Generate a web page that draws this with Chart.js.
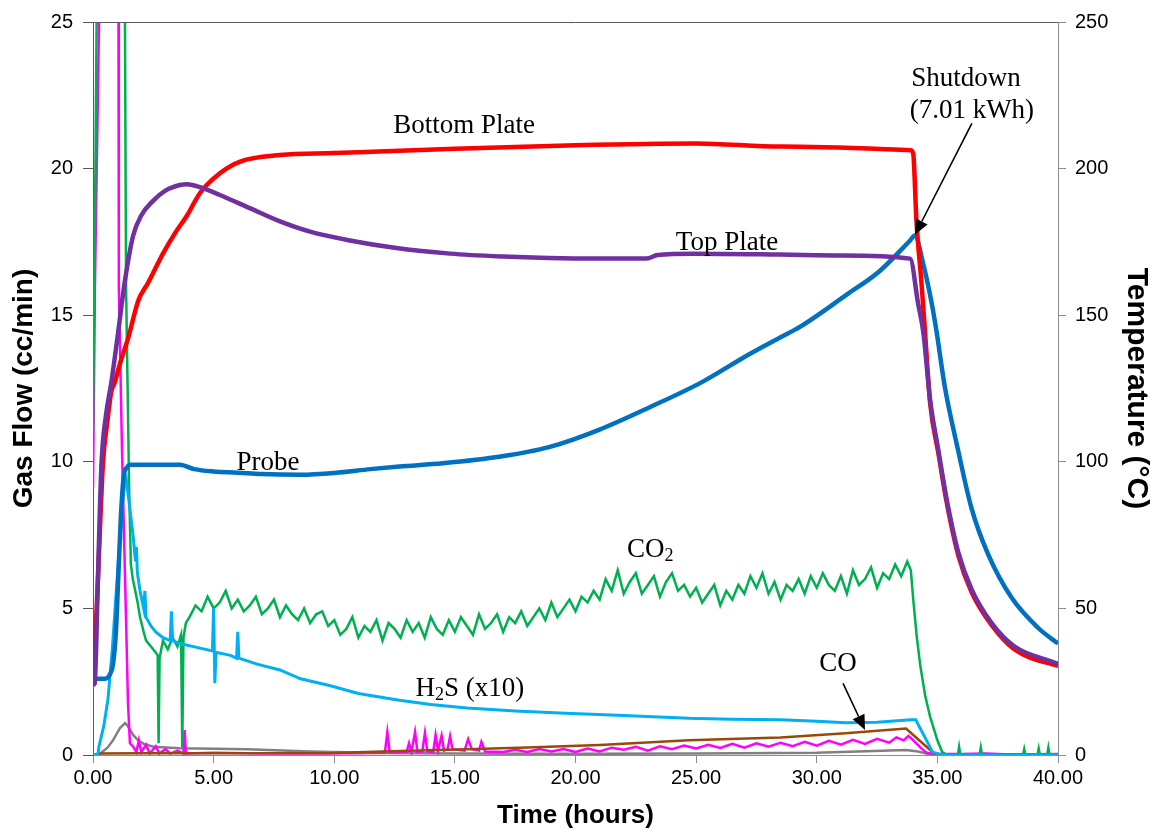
<!DOCTYPE html>
<html>
<head>
<meta charset="utf-8">
<script src="https://cdn.jsdelivr.net/npm/chart.js@4.4.1/dist/chart.umd.min.js"></script>
<style>
  html, body { margin: 0; padding: 0; background: #fff; }
  #wrap { width: 1154px; height: 836px; }
</style>
</head>
<body>
<div id="wrap"><canvas id="gasChart" width="1154" height="836"></canvas></div>
<script>
// axis ticks
const timeTicks = [0, 5, 10, 15, 20, 25, 30, 35, 40];
const gasTicks = [0, 5, 10, 15, 20, 25];
const tempTicks = [0, 50, 100, 150, 200, 250];

// temperatures (right axis, °C)
const bottomT = [0.03, 0.2, 0.41, 0.6, 0.76, 0.9, 1.1, 1.45, 1.88, 2.28, 2.9, 3.4, 3.9, 4.43, 5.26, 6.1, 7.75, 10, 15, 20, 25, 28.5, 33.9, 34.0, 34.13, 34.35, 34.49, 34.7, 35.04, 35.39, 35.87, 36.42, 37.25, 38.2, 39.95, 40];
const bottomV = [28, 59, 99, 114, 124, 127, 133, 142, 155, 161, 171, 178, 184, 191.6, 198.4, 202.4, 204.6, 205.3, 206.8, 208, 208.6, 207.5, 206.3, 205, 182.6, 160, 144, 120, 103, 86, 68, 55.5, 44.3, 36, 30.5, 30.4];

const topT = [0, 0.07, 0.2, 0.35, 0.54, 0.76, 1.04, 1.31, 1.66, 2.0, 2.49, 3.0, 3.6, 3.9, 4.5, 5.26, 6.5, 7.75, 9, 10.65, 12.5, 14.8, 17, 18.9, 21, 22.95, 23.4, 24.9, 28.5, 31, 33.87, 34.2, 34.42, 34.7, 35.04, 35.39, 35.87, 36.42, 37.25, 38.2, 39.95, 40];
const topV = [24, 24.4, 59, 99, 116, 127, 144, 161, 177, 184, 189, 192.5, 194.4, 194.7, 193.5, 191, 186.5, 182, 178.5, 175.5, 173, 171, 170, 169.5, 169.3, 169.3, 170.5, 171, 170.7, 170.4, 169.3, 154, 144, 121, 104, 87, 69, 56.5, 45, 37, 31.2, 31];

const probeT = [0, 0.5, 0.7, 0.83, 0.95, 1.04, 1.16, 1.28, 1.4, 1.52, 2.5, 3.6, 4.2, 5, 6, 7, 8.6, 10, 11.5, 12.7, 14.5, 16.9, 18.9, 21, 23.1, 25.2, 27.2, 28.5, 29.3, 31.24, 32.6, 33.86, 34.07, 34.4, 34.76, 34.97, 35.3, 35.87, 36.42, 37.1, 38.08, 39.17, 40];
const probeV = [26, 26, 27.5, 31, 42, 59, 82, 95.6, 98, 99, 99, 99, 97.5, 96.7, 96.3, 95.8, 95.6, 96.2, 97.5, 98.4, 99.5, 101.8, 105, 111, 118.7, 127, 136.7, 142.5, 146, 157, 165, 175.4, 177.2, 168, 154.3, 144.2, 126, 103.5, 84, 68.5, 53.6, 43.4, 38];

// gas flows (left axis, cc/min)
const co2T = [0, 0.1, 0.2, 1.3, 1.37, 1.5, 1.57, 1.65, 1.75, 1.85, 1.95, 2.1, 2.2, 2.4, 2.6, 2.68, 2.72, 2.76, 2.9, 3.1, 3.3, 3.5, 3.65, 3.7, 3.75, 3.85,
  4.0, 4.25, 4.5, 4.75, 5.0, 5.25, 5.5, 5.75, 6.0, 6.25, 6.5, 6.75, 7.0, 7.25, 7.5, 7.75, 8.0, 8.25, 8.5, 8.75, 9.0, 9.25, 9.5, 9.75,
  10.0, 10.25, 10.5, 10.75, 11.0, 11.25, 11.5, 11.75, 12.0, 12.25, 12.5, 12.75, 13.0, 13.25, 13.5, 13.75, 14.0, 14.25, 14.5, 14.75,
  15.0, 15.25, 15.5, 15.75, 16.0, 16.25, 16.5, 16.75, 17.0, 17.25, 17.5, 17.75, 18.0, 18.25, 18.5, 18.75, 19.0, 19.25, 19.5, 19.75,
  20.0, 20.25, 20.5, 20.75, 21.0, 21.25, 21.5, 21.75, 22.0, 22.25, 22.5, 22.75, 23.0, 23.25, 23.5, 23.75, 24.0, 24.25, 24.5, 24.75,
  25.0, 25.25, 25.5, 25.75, 26.0, 26.25, 26.5, 26.75, 27.0, 27.25, 27.5, 27.75, 28.0, 28.25, 28.5, 28.75, 29.0, 29.25, 29.5, 29.75,
  30.0, 30.25, 30.5, 30.75, 31.0, 31.25, 31.5, 31.75, 32.0, 32.25, 32.5, 32.75, 33.0, 33.25, 33.5, 33.75, 33.9,
  34.0, 34.15, 34.3, 34.5, 34.7, 34.85, 35.0, 35.2, 35.4,
  35.85, 35.9, 35.95, 36.75, 36.8, 36.85, 38.55, 38.6, 38.65, 39.15, 39.2, 39.25, 39.55, 39.6, 39.65, 40];
const co2V = [11, 20, 30, 30, 16, 9, 6.5, 6.0, 5.6, 5.2, 4.7, 4.2, 3.9, 3.7, 3.5, 3.4, 0.4, 3.3, 3.9, 3.6, 4.0, 3.7, 4.1, 0.25, 4.0, 4.5,
  4.7, 5.1, 4.9, 5.4, 5.0, 5.2, 5.6, 5.0, 5.3, 4.9, 5.1, 5.4, 4.8, 5.0, 5.3, 4.7, 5.1, 4.8, 4.6, 5.0, 4.5, 4.8, 4.9, 4.4,
  4.6, 4.1, 4.3, 4.7, 4.0, 4.4, 4.2, 4.6, 3.9, 4.5, 4.3, 4.0, 4.6, 4.2, 4.5, 4.0, 4.7, 4.3, 4.1, 4.6,
  4.2, 4.7, 4.4, 4.1, 4.8, 4.3, 4.5, 4.8, 4.2, 4.7, 4.5, 4.9, 4.4, 4.7, 5.0, 4.6, 5.2, 4.7, 5.0, 5.3,
  4.9, 5.4, 5.2, 5.6, 5.3, 6.0, 5.6, 6.3, 5.5, 5.9, 6.2, 5.5, 5.8, 6.1, 5.4, 5.9, 6.2, 5.6, 5.8, 5.4,
  5.7, 5.2, 5.5, 5.8, 5.1, 5.6, 5.3, 5.8, 5.5, 6.1, 5.7, 6.2, 5.5, 5.9, 5.3, 5.8, 5.6, 6.0, 5.5, 6.1,
  5.7, 6.2, 5.8, 5.6, 6.1, 5.5, 6.3, 5.8, 6.0, 6.4, 5.7, 6.2, 6.0, 6.5, 6.1, 6.6, 6.3,
  5.3, 4.0, 3.0, 2.0, 1.3, 0.9, 0.5, 0.1, 0.0,
  0.0, 0.27, 0.0, 0.0, 0.25, 0.0, 0.0, 0.2, 0.0, 0.0, 0.22, 0.0, 0.0, 0.25, 0.0, 0.02];

const h2sT = [0, 0.2, 0.25, 0.45, 0.62, 0.8, 1.0, 1.15, 1.3, 1.38, 1.5, 1.66, 1.76, 1.8, 1.84, 1.95, 2.1, 2.15, 2.2, 2.4, 2.6, 2.9, 3.2, 3.25, 3.3, 3.6, 4.3, 4.95, 5.0, 5.05, 5.1, 5.7, 5.95, 6.0, 6.05, 6.8, 7.75, 8.6, 9.8, 11, 12.7, 14, 15.5, 17.5, 19.6, 22, 24.7, 26.5, 28.5, 30, 31.2, 32.5, 33.9, 34.1, 34.55, 34.8, 35.2, 40];
const h2sV = [0, 0, 0.3, 1.0, 1.9, 3.6, 6.0, 7.8, 9.2, 9.4, 8.6, 7.5, 6.6, 7.1, 6.2, 5.6, 5.0, 5.6, 4.7, 4.4, 4.2, 4.0, 3.9, 4.9, 3.9, 3.8, 3.67, 3.55, 5.0, 2.45, 3.5, 3.4, 3.3, 4.2, 3.3, 3.1, 2.9, 2.6, 2.37, 2.1, 1.87, 1.72, 1.6, 1.5, 1.42, 1.35, 1.25, 1.22, 1.2, 1.15, 1.1, 1.12, 1.2, 1.2, 0.5, 0.1, 0, 0];

const coT = [0, 0.3, 2, 10, 12, 15.5, 18, 21, 24.7, 28.5, 31.2, 33.7, 34.55, 34.9, 40];
const coV = [0, 0.05, 0.06, 0.07, 0.12, 0.2, 0.26, 0.34, 0.5, 0.6, 0.74, 0.9, 0.28, 0.03, 0.02];

const pinkT = [0, 0.08, 0.25, 0.3, 1.05, 1.07, 1.2, 1.45, 1.53, 1.65, 1.8, 1.9, 2.0, 2.2, 2.35, 2.6, 2.75, 3.0, 3.2, 3.5, 3.75, 3.8, 3.85, 5, 7, 9, 11, 12.1, 12.2, 12.3, 13.0, 13.1, 13.2, 13.35, 13.45, 13.65, 13.76, 13.86, 14.1, 14.2, 14.3, 14.45, 14.55, 14.7, 14.8, 14.9, 15.4, 15.55, 15.7, 16.0, 16.1, 16.25, 17, 17.5, 18, 18.5, 19, 19.5, 20, 20.5, 21, 21.5, 22, 22.5, 23, 23.5, 24, 24.5, 25, 25.5, 26, 26.5, 27, 27.5, 28, 28.5, 29, 29.5, 30, 30.5, 31, 31.5, 32, 32.5, 33, 33.3, 33.6, 33.8, 34.0, 34.3, 34.55, 35, 36, 37, 38, 40];
const pinkV = [9.1, 16, 25, 30, 30, 16, 10.5, 1.8, 0.4, 0.3, 0.1, 0.5, 0.1, 0.35, 0.05, 0.3, 0.05, 0.2, 0.05, 0.15, 0.05, 0.85, 0.05, 0.08, 0.05, 0.05, 0.06, 0.08, 0.78, 0.08, 0.1, 0.4, 0.1, 0.78, 0.1, 0.12, 0.75, 0.12, 0.1, 0.68, 0.15, 0.66, 0.15, 0.2, 0.64, 0.2, 0.15, 0.54, 0.2, 0.15, 0.45, 0.12, 0.1, 0.18, 0.1, 0.2, 0.12, 0.2, 0.1, 0.22, 0.12, 0.25, 0.18, 0.28, 0.15, 0.3, 0.2, 0.32, 0.22, 0.35, 0.24, 0.38, 0.25, 0.4, 0.28, 0.42, 0.3, 0.45, 0.32, 0.48, 0.35, 0.52, 0.38, 0.55, 0.42, 0.6, 0.5, 0.65, 0.5, 0.25, 0.08, 0.03, 0.03, 0.05, 0.02, 0.03];

const greyT = [0, 0.3, 0.6, 0.83, 1.0, 1.12, 1.33, 1.45, 1.53, 1.7, 1.87, 2.1, 2.5, 3.6, 6.4, 9, 11.9, 15, 20, 25, 30, 33.7, 34.2, 34.8, 40];
const greyV = [0, 0.05, 0.25, 0.5, 0.75, 0.92, 1.09, 0.98, 0.85, 0.65, 0.5, 0.38, 0.28, 0.23, 0.2, 0.12, 0.07, 0.05, 0.04, 0.05, 0.08, 0.17, 0.12, 0, 0];

function pts(ts, vs) {
  return ts.map((t, i) => ({ x: t, y: vs[i] }));
}

// text labels placed in data units (x hours, y gas flow)
const labels = [
  { text: 'Bottom Plate', x: 15.38, y: 21.44 },
  { text: 'Top Plate', x: 26.28, y: 17.47 },
  { text: 'Probe', x: 7.25, y: 9.97 },
  { text: 'CO', sub: '2', x: 23.1, y: 7.0 },
  { text: 'H', sub: '2', rest: 'S (x10)', x: 15.62, y: 2.27 },
  { text: 'CO', x: 30.88, y: 3.09 },
  { text: 'Shutdown', x: 36.19, y: 23.07 },
  { text: '(7.01 kWh)', x: 36.43, y: 21.98 }
];
const arrows = [
  { x1: 36.43, y1: 21.54, x2: 34.07, y2: 17.74 },
  { x1: 31.09, y1: 2.44, x2: 32.0, y2: 0.85 }
];

const serif = '"Liberation Serif", "Times New Roman", serif';

const notes = {
  id: 'notes',
  afterDatasetsDraw(chart) {
    const ctx = chart.ctx;
    const xs = chart.scales.x, ys = chart.scales.y;
    const a = chart.chartArea;
    ctx.save();
    // plot border top
    ctx.strokeStyle = '#595959';
    ctx.lineWidth = 1;
    ctx.beginPath();
    ctx.moveTo(a.left, a.top + 0.5);
    ctx.lineTo(a.right, a.top + 0.5);
    ctx.stroke();

    ctx.fillStyle = '#000';
    ctx.textBaseline = 'middle';
    ctx.textAlign = 'left';
    labels.forEach(l => {
      const px = xs.getPixelForValue(l.x), py = ys.getPixelForValue(l.y);
      ctx.font = '27px ' + serif;
      const w1 = ctx.measureText(l.text).width;
      const w3 = l.rest ? ctx.measureText(l.rest).width : 0;
      ctx.font = '18px ' + serif;
      const w2 = l.sub ? ctx.measureText(l.sub).width : 0;
      const x0 = px - (w1 + w2 + w3) / 2;
      ctx.font = '27px ' + serif;
      ctx.fillText(l.text, x0, py);
      if (l.rest) ctx.fillText(l.rest, x0 + w1 + w2, py);
      if (l.sub) {
        ctx.font = '18px ' + serif;
        ctx.fillText(l.sub, x0 + w1, py + 7);
      }
    });

    arrows.forEach(ar => {
      const x1 = xs.getPixelForValue(ar.x1), y1 = ys.getPixelForValue(ar.y1);
      const x2 = xs.getPixelForValue(ar.x2), y2 = ys.getPixelForValue(ar.y2);
      const ang = Math.atan2(y2 - y1, x2 - x1);
      const head = 15, half = 6.5;
      const bx = x2 - head * Math.cos(ang), by = y2 - head * Math.sin(ang);
      ctx.strokeStyle = '#000';
      ctx.lineWidth = 1.6;
      ctx.beginPath();
      ctx.moveTo(x1, y1);
      ctx.lineTo(bx, by);
      ctx.stroke();
      ctx.beginPath();
      ctx.moveTo(x2, y2);
      ctx.lineTo(bx + half * Math.sin(ang), by - half * Math.cos(ang));
      ctx.lineTo(bx - half * Math.sin(ang), by + half * Math.cos(ang));
      ctx.closePath();
      ctx.fill();
    });
    ctx.restore();
  }
};

const sans = '"Liberation Sans", Arial, sans-serif';
const tickFont = { family: sans, size: 20 };
const axisGray = '#8c8c8c';

function line(label, ts, vs, color, width, axis, smooth) {
  return {
    label: label,
    data: pts(ts, vs),
    borderColor: color,
    backgroundColor: color,
    borderWidth: width,
    pointRadius: 0,
    fill: false,
    yAxisID: axis,
    tension: 0,
    cubicInterpolationMode: smooth ? 'monotone' : 'default'
  };
}

new Chart(document.getElementById('gasChart').getContext('2d'), {
  type: 'line',
  data: {
    datasets: [
      line('Top Plate', topT, topV, '#7030A0', 4.5, 'y2', true),
      line('Bottom Plate', bottomT, bottomV, '#FF0000', 4.5, 'y2', true),
      line('Probe', probeT, probeV, '#0070C0', 4.5, 'y2', true),
      line('H2S (x10)', h2sT, h2sV, '#00B0F0', 3, 'y', false),
      line('CO2', co2T, co2V, '#00B050', 2.5, 'y', false),
      line('CO', coT, coV, '#984807', 2.5, 'y', false),
      line('Other', pinkT, pinkV, '#FF00FF', 2.5, 'y', false),
      line('Other 2', greyT, greyV, '#808080', 2.5, 'y', false)
    ]
  },
  options: {
    responsive: false,
    animation: false,
    layout: { padding: { top: 18, left: 0, right: 0, bottom: 0 } },
    plugins: { legend: { display: false }, tooltip: { enabled: false } },
    scales: {
      x: {
        type: 'linear',
        min: 0,
        max: 40,
        afterBuildTicks: s => { s.ticks = timeTicks.map(v => ({ value: v })); },
        afterFit: s => { s.height = 81; },
        ticks: { font: tickFont, color: '#000', padding: 3, maxRotation: 0,
          callback: v => v.toFixed(2) },
        grid: { drawOnChartArea: false, drawTicks: true, tickLength: 8, color: axisGray },
        border: { color: axisGray },
        title: { display: true, text: 'Time (hours)', font: { family: sans, size: 26, weight: 'bold' },
          color: '#000', padding: { top: 4, bottom: 5 } }
      },
      y: {
        position: 'left',
        min: 0,
        max: 25,
        afterBuildTicks: s => { s.ticks = gasTicks.map(v => ({ value: v })); },
        afterFit: s => { s.width = 93; },
        ticks: { font: tickFont, color: '#000', padding: 10 },
        grid: { drawOnChartArea: false, drawTicks: true, tickLength: 10, color: '#595959' },
        border: { color: '#595959' },
        title: { display: true, text: 'Gas Flow (cc/min)', font: { family: sans, size: 28, weight: 'bold' },
          color: '#000', padding: { top: 7, bottom: 0 } }
      },
      y2: {
        position: 'right',
        min: 0,
        max: 250,
        afterBuildTicks: s => { s.ticks = tempTicks.map(v => ({ value: v })); },
        afterFit: s => { s.width = 96; },
        ticks: { font: tickFont, color: '#000', padding: 9 },
        grid: { drawOnChartArea: false, drawTicks: true, tickLength: 8, color: axisGray },
        border: { color: axisGray },
        title: { display: true, text: 'Temperature (°C)', font: { family: sans, size: 30, weight: 'bold' },
          color: '#000', padding: { top: 0, bottom: 0 } }
      }
    }
  },
  plugins: [notes]
});
</script>
</body>
</html>
